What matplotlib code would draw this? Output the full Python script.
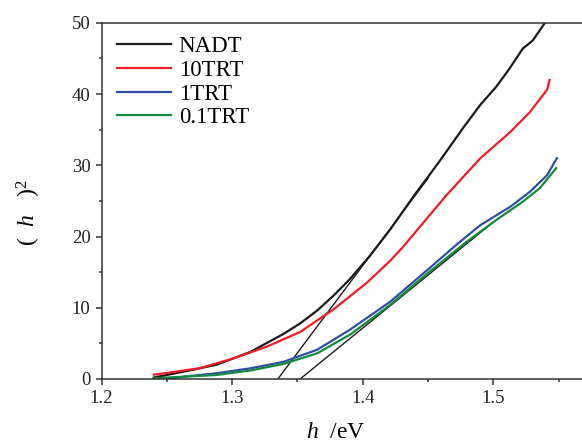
import numpy as np
import matplotlib.pyplot as plt

plt.rcParams['font.family'] = ['Liberation Serif', 'DejaVu Serif']
plt.rcParams['mathtext.fontset'] = 'custom'
plt.rcParams['mathtext.it'] = 'Liberation Serif:italic'
plt.rcParams['mathtext.rm'] = 'Liberation Serif'

# 吸收谱 (αhν)^2 - hν 曲线
nadt_x = [1.240, 1.262, 1.288, 1.314, 1.326, 1.339, 1.352, 1.365, 1.377, 1.390, 1.405,
          1.421, 1.441, 1.450, 1.460, 1.477, 1.490, 1.502, 1.512, 1.5225, 1.530, 1.539]
nadt_y = [0.2, 1.0, 2.0, 3.8, 5.0, 6.3, 7.8, 9.6, 11.6, 14.0, 17.2,
          21.0, 26.2, 28.4, 30.9, 35.3, 38.5, 41.0, 43.5, 46.4, 47.5, 49.9]

trt10_x = [1.240, 1.275, 1.301, 1.326, 1.352, 1.377, 1.403, 1.421, 1.431, 1.464,
           1.490, 1.513, 1.528, 1.541, 1.543]
trt10_y = [0.6, 1.5, 2.9, 4.5, 6.6, 9.7, 13.5, 16.6, 18.6, 25.8,
           31.0, 34.7, 37.5, 40.6, 42.0]

trt1_x = [1.250, 1.262, 1.288, 1.314, 1.339, 1.365, 1.390, 1.421, 1.450, 1.472,
          1.490, 1.513, 1.528, 1.541, 1.5485]
trt1_y = [0.05, 0.3, 0.8, 1.5, 2.4, 4.1, 6.9, 10.85, 15.4, 18.9,
          21.6, 24.2, 26.3, 28.6, 31.0]

trt01_x = [1.240, 1.288, 1.314, 1.339, 1.365, 1.390, 1.421, 1.450, 1.479, 1.502,
           1.5225, 1.5355, 1.548]
trt01_y = [0.1, 0.56, 1.2, 2.1, 3.6, 6.2, 10.4, 14.9, 19.2, 22.3,
           24.9, 26.8, 29.6]

# 切线外推求带隙
fit1_x = [1.335, 1.450]
fit1_y = [0.0, 28.2]
fit2_x = [1.352, 1.497]
fit2_y = [0.0, 21.6]

series = [
    ('NADT', nadt_x, nadt_y, '#1a1a1a'),
    ('10TRT', trt10_x, trt10_y, '#ee1c24'),
    ('1TRT', trt1_x, trt1_y, '#2f4fa2'),
    ('0.1TRT', trt01_x, trt01_y, '#128a3c'),
]

fig = plt.figure(figsize=(5.82, 4.43), dpi=100)
ax = fig.add_axes([0.1744, 0.1445, 0.898, 0.804])

ax.plot(fit1_x, fit1_y, color='#1a1a1a', lw=1.0, zorder=1)
ax.plot(fit2_x, fit2_y, color='#1a1a1a', lw=1.0, zorder=1)
for name, xs, ys, c in series:
    ax.plot(xs, ys, color=c, lw=1.6, label=name, zorder=2)

ax.set_xlim(1.2, 1.6)
ax.set_ylim(0, 50)
ax.set_xticks([1.2, 1.3, 1.4, 1.5])
ax.set_xticks(np.arange(1.25, 1.58, 0.1), minor=True)
ax.set_yticks(range(0, 51, 10))
ax.set_yticks(range(5, 50, 10), minor=True)
ax.tick_params(which='both', direction='out', width=1.1, colors='#333333',
               labelsize=13.5, labelcolor='#222222', pad=3.5)
ax.tick_params(which='major', length=4.5)
ax.tick_params(which='minor', length=2.5)
ax.spines['right'].set_visible(False)
for s in ['left', 'bottom', 'top']:
    ax.spines[s].set_linewidth(1.1)
    ax.spines[s].set_color('#333333')

ax.legend(loc='upper left', bbox_to_anchor=(0.029, 0.963), frameon=False,
          fontsize=16.5, labelspacing=0.12, handlelength=2.35, handletextpad=0.36,
          borderpad=0, borderaxespad=0)

fig.text(0.577, 0.023, r'$\mathit{h}$  /eV', fontsize=17, ha='center', va='center')
fig.text(0.050, 0.52, r'(  $\mathit{h}$   )$^2$', fontsize=17, rotation=90,
         ha='center', va='center')

fig.savefig('out.png', dpi=100)
